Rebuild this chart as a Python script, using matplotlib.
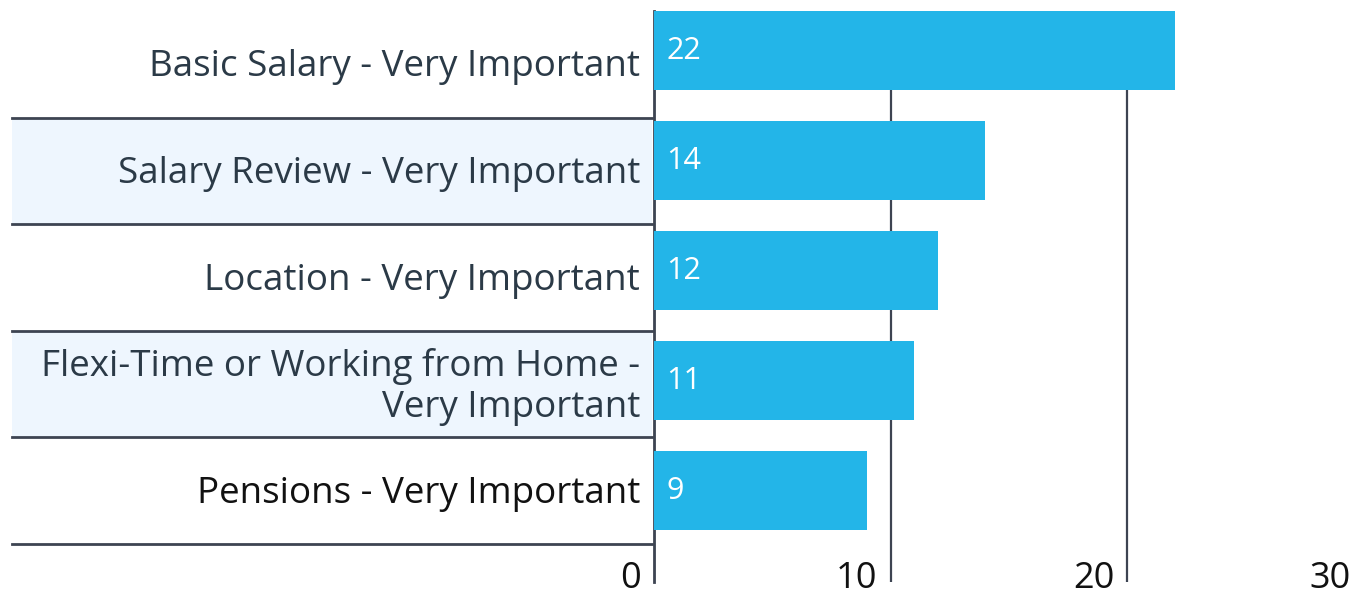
import matplotlib.pyplot as plt
from matplotlib.transforms import ScaledTranslation

# Data
categories = [
    "Basic Salary - Very Important",
    "Salary Review - Very Important",
    "Location - Very Important",
    "Flexi-Time or Working from Home -\nVery Important",
    "Pensions - Very Important",
]
values = [22, 14, 12, 11, 9]
xticks = [0, 10, 20, 30]

plt.rcParams['font.family'] = ['Open Sans', 'DejaVu Sans']

W, H = 1354, 598
fig = plt.figure(figsize=(W / 100, H / 100), dpi=100)

bar_color = '#23b5e8'
line_color = '#3d4452'
text_color = '#2b3a47'
band_color = '#eef6fe'

# label column (rows with alternating bands and separators)
lab = fig.add_axes([12 / W, (H - 544) / H, 640 / W, 533 / H])
lab.set_xlim(0, 1)
lab.set_ylim(len(categories), 0)
lab.axis('off')
for i, cat in enumerate(categories):
    if i % 2 == 1:
        lab.axhspan(i, i + 1, color=band_color, lw=0)
    lab.axhline(i + 1, color=line_color, lw=2, clip_on=False)
    col = '#111111' if i == len(categories) - 1 else text_color
    lab.text(628 / 640, i + 0.53, cat, ha='right', va='center', fontsize=26.5,
             color=col, linespacing=1.2)

# bar axes
ax = fig.add_axes([654 / W, (H - 582) / H, (1364 - 654) / W, (582 - 11) / H])
y = list(range(len(values)))
ax.barh(y, values, height=0.72, color=bar_color, zorder=3)
ax.set_xlim(0, 30)
ax.set_ylim(4.83, -0.36)
ax.set_yticks([])
ax.set_xticks(xticks)
ax.set_xticklabels([str(t) for t in xticks], fontsize=26, ha='right', color='#111111')
ax.tick_params(axis='x', length=0, pad=-15)
for t in ax.get_xticklabels():
    t.set_transform(t.get_transform() + ScaledTranslation(-13 / 100, 0, fig.dpi_scale_trans))
ax.grid(axis='x', color=line_color, lw=1.6)
ax.set_axisbelow(True)
for s in ['top', 'right', 'bottom']:
    ax.spines[s].set_visible(False)
ax.spines['left'].set_color(line_color)
ax.spines['left'].set_linewidth(2)
ax.patch.set_alpha(0)

for yi, v in zip(y, values):
    ax.annotate(str(v), (0, yi), xytext=(9, 0), textcoords='offset points',
                ha='left', va='center', color='white', fontsize=22, zorder=4)

fig.savefig('out.png', dpi=100)
